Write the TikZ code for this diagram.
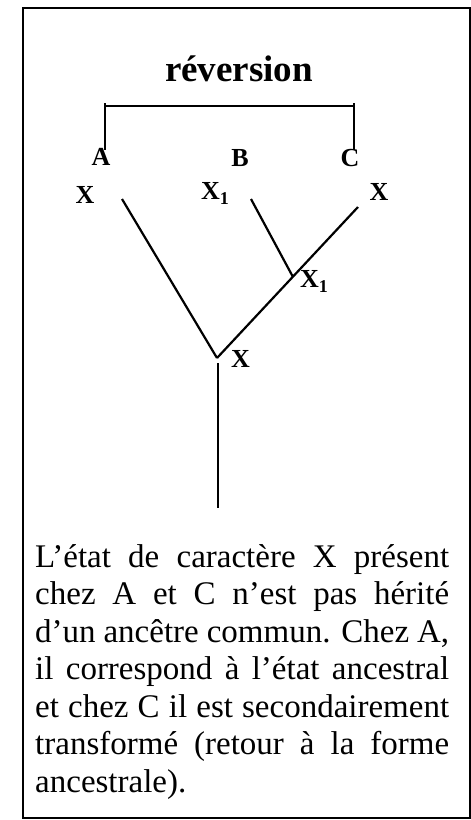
\documentclass[tikz,border=0pt]{standalone}
\usepackage{fontspec}
\setmainfont{Liberation Serif}
\tikzset{
  title/.style={
    font=\fontsize{37}{37}\selectfont\bfseries,
    inner sep=0pt, anchor=base
  },
  taxon/.style={
    font=\fontsize{26}{26}\selectfont\bfseries,
    inner sep=0pt, anchor=base
  },
  state/.style={
    font=\fontsize{26}{26}\selectfont\bfseries,
    inner sep=0pt, anchor=base
  },
  legend/.style={
    text width=414pt, align=justify, inner sep=0pt, anchor=base west,
    font=\fontsize{33}{37.5}\selectfont
  },
  branch/.style={line width=2.2pt},
  bracket/.style={line width=1.5pt},
  frame/.style={draw, line width=2pt},
}
\newcommand{\subone}{\raisebox{-5pt}{\fontsize{18}{18}\selectfont 1}}

\begin{document}
\begin{tikzpicture}[x=1pt, y=-1pt]

  \useasboundingbox (0,0) rectangle (471,820);
  \draw[frame] (23,8) rectangle (470,818);

  % ── title and bracket ─────────────────────────────────────────────────────
  \node[title] (rev) at (239,81) {réversion};
  \coordinate (brL) at (105,103);
  \coordinate (brR) at (354,103);
  \coordinate (brLb) at (105,150);
  \coordinate (brRb) at (354,150);
  \coordinate (brLh) at (105,106);
  \coordinate (brRh) at (354,106);
  \draw[bracket] (brLb) -- (brL);
  \draw[bracket] (brRb) -- (brR);
  \draw[bracket] (brLh) -- (brRh);

  % ── taxa and states ───────────────────────────────────────────────────────
  \node[taxon] (ta) at (101,165) {A};
  \node[taxon] (tb) at (240,166) {B};
  \node[taxon] (tc) at (350,166) {C};

  \node[state] (xa)    at (85,203)  {X};
  \node[state, anchor=base west] (xb) at (201,199) {X\subone};
  \node[state] (xc)    at (379,200) {X};
  \node[state, anchor=base west] (xin) at (300,287) {X\subone};
  \node[state, anchor=base west] (xroot) at (231,367) {X};

  % ── tree ──────────────────────────────────────────────────────────────────
  \coordinate (tipA)  at (122,199);
  \coordinate (tipB)  at (251,199);
  \coordinate (tipC)  at (358,207);
  \coordinate (inner) at (293,277);
  \coordinate (root)  at (217,358);
  \coordinate (stem)  at (218,363);
  \coordinate (base)  at (218,508);

  \draw[branch] (tipA) -- (root);
  \draw[branch] (root) -- (tipC);
  \draw[branch] (tipB) -- (inner);
  \draw[branch] (stem) -- (base);

  % ── legend ────────────────────────────────────────────────────────────────
  \node[legend] (txt) at (35,567) {L’état de caractère X présent\linebreak
    chez A et C n’est pas hérité\linebreak
    d’un ancêtre commun. Chez A,\linebreak
    il correspond à l’état ancestral\linebreak
    et chez C il est secondairement\linebreak
    transformé (retour à la forme\linebreak
    ancestrale).};

\end{tikzpicture}
\end{document}
